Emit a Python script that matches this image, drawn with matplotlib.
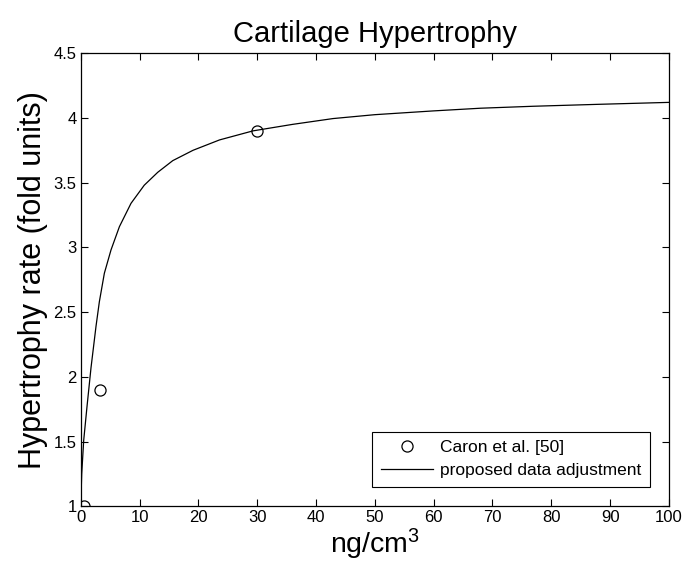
import matplotlib
matplotlib.use('Agg')
from matplotlib import pyplot as plt

# measured data (Caron et al.)
data_x = [0.5, 3.2, 30]
data_y = [1.0, 1.9, 3.9]

# proposed data adjustment
curve_x = [0, 0.17, 0.51, 1.07, 1.75, 2.6, 3.17, 4.02, 5.15, 6.58, 8.55,
           10.8, 13.1, 15.65, 19.1, 23.6, 29.3, 36, 42.9, 50, 59.9, 68,
           76.9, 88, 100]
curve_y = [1.0, 1.25, 1.51, 1.77, 2.07, 2.39, 2.58, 2.80, 2.98, 3.16, 3.34,
           3.48, 3.58, 3.67, 3.75, 3.83, 3.90, 3.95, 3.995, 4.025, 4.054,
           4.075, 4.09, 4.105, 4.12]

x_ticks = list(range(0, 101, 10))
y_ticks = [1, 1.5, 2, 2.5, 3, 3.5, 4, 4.5]
y_tick_labels = ['1', '1.5', '2', '2.5', '3', '3.5', '4', '4.5']

plt.rcParams['font.family'] = ['Liberation Sans', 'DejaVu Sans']
plt.rcParams['mathtext.default'] = 'regular'

fig = plt.figure(figsize=(6.84, 5.72), dpi=100)
ax = fig.add_axes([0.118, 0.115, 0.860, 0.792])

ax.plot(data_x, data_y, 'o', mfc='none', mec='black', ms=8, mew=0.9,
        label='Caron et al. [50]')
ax.plot(curve_x, curve_y, '-', color='black', lw=0.9,
        label='proposed data adjustment')

ax.set_xlim(0, 100)
ax.set_ylim(1, 4.5)
ax.set_xticks(x_ticks)
ax.set_yticks(y_ticks)
ax.set_yticklabels(y_tick_labels)
ax.tick_params(direction='in', length=5, width=0.8, top=True, right=True,
               labelsize=12, pad=3)
for s in ax.spines.values():
    s.set_linewidth(0.9)

ax.set_title('Cartilage Hypertrophy', fontsize=21, pad=8)
ax.set_xlabel('ng/cm$^3$', fontsize=20.5, labelpad=1)
ax.set_ylabel('Hypertrophy rate (fold units)', fontsize=22, labelpad=4)

leg = ax.legend(loc='lower right', fontsize=12.5, handlelength=3.0,
                fancybox=False, edgecolor='black', framealpha=1,
                borderaxespad=1.1, handletextpad=0.4, labelspacing=0.45,
                borderpad=0.5)
leg.get_frame().set_linewidth(0.8)

fig.savefig('out.png', dpi=100)
